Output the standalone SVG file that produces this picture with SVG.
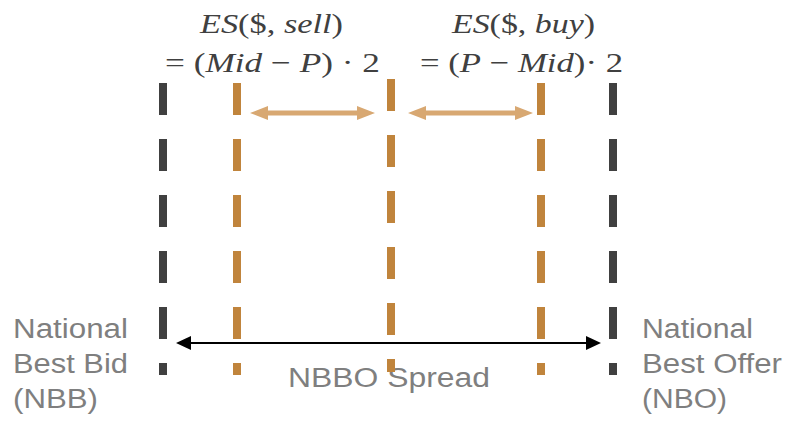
<svg xmlns="http://www.w3.org/2000/svg" width="786" height="422" viewBox="0 0 786 422">
<style>
.dk{stroke:#404040;stroke-width:8;stroke-dasharray:32 24;fill:none}
.or{stroke:#C0843C;stroke-width:8;stroke-dasharray:32 24;fill:none}
.lbl{font-family:"Liberation Sans",Arial,sans-serif;font-size:27px;fill:#7F7F7F}
.math{font-family:"Liberation Serif","Times New Roman",serif;font-size:28px;fill:#404040}
.i{font-style:italic}
.tan{fill:#D8A872}
</style>
<rect width="786" height="422" fill="#ffffff"/>
<g id="spread-label">
  <text class="lbl" x="288" y="387" textLength="202" lengthAdjust="spacingAndGlyphs">NBBO Spread</text>
</g>
<g id="nbb-line"><line class="dk" x1="163" y1="83" x2="163" y2="375"/></g>
<g id="sell-line"><line class="or" x1="237" y1="83" x2="237" y2="375"/></g>
<g id="mid-line"><line class="or" x1="391" y1="79" x2="391" y2="372"/></g>
<g id="buy-line"><line class="or" x1="541" y1="83" x2="541" y2="375"/></g>
<g id="nbo-line"><line class="dk" x1="613" y1="83" x2="613" y2="375"/></g>

<g id="connectors">
  <polygon class="tan" points="250,113 268,106 268,110.5 357,110.5 357,106 375,113 357,120 357,115.5 268,115.5 268,120"/>
  <polygon class="tan" points="408,113 426,106 426,110.5 515,110.5 515,106 533,113 515,120 515,115.5 426,115.5 426,120"/>
  <line x1="188" y1="343" x2="589" y2="343" stroke="#000" stroke-width="2.2"/>
  <polygon points="176,343 191,336 191,350" fill="#000"/>
  <polygon points="601,343 586,336 586,350" fill="#000"/>
</g>

<g id="es-sell">
  <text class="math" x="200" y="33" textLength="143" lengthAdjust="spacingAndGlyphs"><tspan class="i">ES</tspan>($, <tspan class="i">sell</tspan>)</text>
  <text class="math" x="165" y="72" textLength="215" lengthAdjust="spacingAndGlyphs">= (<tspan class="i">Mid</tspan> − <tspan class="i">P</tspan>) · 2</text>
</g>
<g id="es-buy">
  <text class="math" x="452" y="33" textLength="143" lengthAdjust="spacingAndGlyphs"><tspan class="i">ES</tspan>($, <tspan class="i">buy</tspan>)</text>
  <text class="math" x="420" y="72" textLength="203" lengthAdjust="spacingAndGlyphs">= (<tspan class="i">P</tspan> − <tspan class="i">Mid</tspan>)· 2</text>
</g>

<g id="nbb-label">
  <text class="lbl" x="13" y="338" textLength="115" lengthAdjust="spacingAndGlyphs">National</text>
  <text class="lbl" x="13" y="373" textLength="115" lengthAdjust="spacingAndGlyphs">Best Bid</text>
  <text class="lbl" x="13" y="408" textLength="85" lengthAdjust="spacingAndGlyphs">(NBB)</text>
</g>
<g id="nbo-label">
  <text class="lbl" x="642" y="338" textLength="111" lengthAdjust="spacingAndGlyphs">National</text>
  <text class="lbl" x="642" y="373" textLength="140" lengthAdjust="spacingAndGlyphs">Best Offer</text>
  <text class="lbl" x="642" y="408" textLength="85" lengthAdjust="spacingAndGlyphs">(NBO)</text>
</g>
</svg>
